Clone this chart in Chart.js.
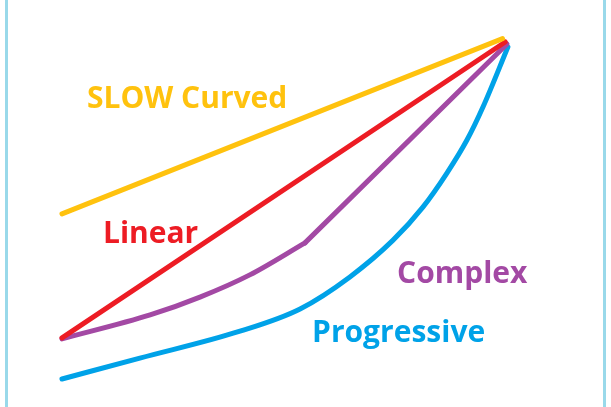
<!DOCTYPE html>
<html>
<head>
<meta charset="utf-8">
<script src="https://cdn.jsdelivr.net/npm/chart.js@4"></script>
<style>
  html, body { margin: 0; padding: 0; background: #fff; overflow: hidden; }
  #wrap { position: relative; width: 611px; height: 407px; }
  .edge { position: absolute; top: 0; width: 3px; height: 407px; background: #99d9ea; }
</style>
</head>
<body>
<div id="wrap">
  <canvas id="curves" width="611" height="407"></canvas>
  <div class="edge" style="left:5px"></div>
  <div class="edge" style="left:603px"></div>
</div>
<script>
// progress (x) vs. output (y), both roughly 0..100
const seriesNames = ['SLOW Curved', 'Linear', 'Complex', 'Progressive'];

const slowX = [0, 99];
const slowY = [49, 101];

const linearX = [0, 99.6];
const linearY = [12.2, 100];

const complexX = [0, 19.8, 31, 42.2, 54.6, 100];
const complexY = [11.9, 19, 24.3, 30.9, 40.4, 99.4];

const progX = [0, 17.5, 40, 53.5, 64.7, 74.4, 81.1, 86.5, 91.0, 94.6, 100.2];
const progY = [0, 6.2, 14.2, 20.8, 30.3, 41.2, 51.0, 61.1, 70.9, 80.7, 98.5];

const colors = ['#ffc20e', '#ed1c24', '#a349a4', '#00a2e8'];

// where each name is written (left edge, baseline), in data units
const labelSpots = [
    { x: 5.6, y: 80.4 },
    { x: 9.2, y: 40.4 },
    { x: 75.3, y: 28.5 },
    { x: 56.2, y: 11.0 }
];

function pts(xs, ys) {
    return xs.map((x, i) => ({ x: x, y: ys[i] }));
}

function lineSet(label, data, color, curved) {
    return {
        label: label,
        data: data,
        borderColor: color,
        backgroundColor: color,
        borderWidth: 5,
        borderCapStyle: 'round',
        borderJoinStyle: 'round',
        pointRadius: 0,
        fill: false,
        cubicInterpolationMode: curved ? 'monotone' : 'default',
        tension: 0
    };
}

// the Complex line has a sharp bend, so its last stretch is drawn straight
const complexPts = pts(complexX, complexY);
const bend = complexPts.length - 2;

const datasets = [
    lineSet(seriesNames[0], pts(slowX, slowY), colors[0], false),
    lineSet(seriesNames[1], pts(linearX, linearY), colors[1], false),
    lineSet(seriesNames[2], complexPts.slice(0, bend + 1), colors[2], true),
    lineSet('', complexPts.slice(bend), colors[2], false),
    lineSet(seriesNames[3], pts(progX, progY), colors[3], true)
];

const nameLabels = {
    id: 'nameLabels',
    afterDatasetsDraw(chart) {
        const ctx = chart.ctx;
        const xs = chart.scales.x;
        const ys = chart.scales.y;
        ctx.save();
        ctx.font = 'bold 30px "Open Sans", sans-serif';
        ctx.textBaseline = 'alphabetic';
        ctx.textAlign = 'left';
        seriesNames.forEach((name, i) => {
            ctx.fillStyle = colors[i];
            ctx.fillText(name, xs.getPixelForValue(labelSpots[i].x), ys.getPixelForValue(labelSpots[i].y));
        });
        ctx.restore();
    }
};

new Chart(document.getElementById('curves'), {
    type: 'line',
    data: { datasets: datasets },
    options: {
        responsive: false,
        animation: false,
        layout: { padding: 0 },
        plugins: {
            legend: { display: false },
            tooltip: { enabled: false }
        },
        scales: {
            x: { type: 'linear', display: false, min: -13.93, max: 123.37 },
            y: { display: false, min: -8.31, max: 112.46 }
        }
    },
    plugins: [nameLabels]
});
</script>
</body>
</html>
